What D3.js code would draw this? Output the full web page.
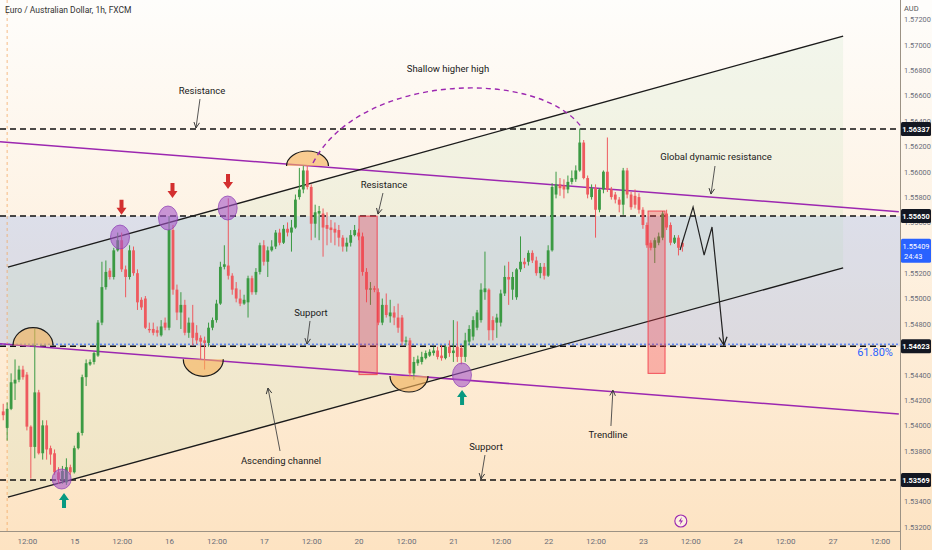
<!DOCTYPE html>
<html><head><meta charset="utf-8">
<script src="https://cdn.jsdelivr.net/npm/d3@7"></script>
<style>body{margin:0;background:#fff}svg{display:block}</style>
</head><body>
<script>
// ---------- DATA ----------
const openP = [
1.5411,1.5398,1.5413,1.5433,1.5436,1.5444,1.5440,1.5399,1.5383,1.5426,
1.5378,1.5400,1.5382,1.5378,1.5363,1.5357,1.5355,1.5367,1.5363,1.5382,
1.5394,1.5438,1.5448,1.5450,1.5455,1.5481,1.5509,1.5522,1.5517,1.5538,
1.5546,1.5523,1.5517,1.5538,1.5520,1.5499,1.5500,1.5476,1.5476,1.5475,
1.5471,1.5481,1.5477,1.5554,1.5507,1.5489,1.5495,1.5473,1.5481,1.5473,
1.5469,1.5467,1.5465,1.5477,1.5483,1.5496,1.5525,1.5526,1.5518,1.5508,
1.5500,1.5496,1.5497,1.5516,1.5505,1.5521,1.5542,1.5529,1.5538,1.5541,
1.5552,1.5544,1.5555,1.5552,1.5556,1.5580,1.5586,1.5601,1.5588,1.5559,
1.5567,1.5567,1.5558,1.5556,1.5555,1.5554,1.5548,1.5541,1.5544,1.5550,
1.5552,1.5549,1.5521,1.5507,1.5508,1.5505,1.5481,1.5495,1.5486,1.5489,
1.5485,1.5485,1.5466,1.5467,1.5441,1.5449,1.5450,1.5453,1.5455,1.5457,
1.5459,1.5455,1.5453,1.5462,1.5457,1.5462,1.5461,1.5454,1.5466,1.5470,
1.5477,1.5483,1.5505,1.5507,1.5483,1.5481,1.5481,1.5504,1.5517,1.5507,
1.5501,1.5523,1.5529,1.5529,1.5536,1.5530,1.5520,1.5525,1.5518,1.5538,
1.5582,1.5590,1.5589,1.5586,1.5592,1.5594,1.5601,1.5623,1.5595,1.5580,
1.5587,1.5570,1.5586,1.5600,1.5586,1.5582,1.5578,1.5574,1.5601,1.5582,
1.5581,1.5580,1.5570,1.5558,1.5544,1.5540,1.5544,1.5548,1.5567,1.5558,
1.5544,1.5548,1.5544];
const highP = [
1.5417,1.5418,1.5441,1.5452,1.5447,1.5447,1.5442,1.5400,1.5476,1.5428,
1.5404,1.5404,1.5384,1.5381,1.5367,1.5368,1.5374,1.5369,1.5384,1.5395,
1.5440,1.5452,1.5452,1.5458,1.5483,1.5529,1.5530,1.5524,1.5540,1.5552,
1.5552,1.5526,1.5542,1.5541,1.5523,1.5501,1.5502,1.5481,1.5481,1.5478,
1.5483,1.5485,1.5565,1.5558,1.5511,1.5505,1.5499,1.5485,1.5495,1.5479,
1.5471,1.5470,1.5481,1.5485,1.5499,1.5529,1.5542,1.5579,1.5520,1.5513,
1.5507,1.5503,1.5518,1.5518,1.5524,1.5544,1.5546,1.5541,1.5546,1.5554,
1.5555,1.5558,1.5560,1.5562,1.5582,1.5603,1.5605,1.5605,1.5590,1.5574,
1.5573,1.5571,1.5568,1.5562,1.5560,1.5558,1.5550,1.5548,1.5554,1.5558,
1.5555,1.5552,1.5524,1.5513,1.5510,1.5508,1.5500,1.5504,1.5499,1.5494,
1.5496,1.5487,1.5470,1.5469,1.5454,1.5455,1.5458,1.5459,1.5460,1.5462,
1.5462,1.5463,1.5463,1.5467,1.5483,1.5482,1.5463,1.5473,1.5479,1.5486,
1.5491,1.5512,1.5537,1.5508,1.5486,1.5488,1.5507,1.5526,1.5529,1.5521,
1.5524,1.5549,1.5532,1.5538,1.5538,1.5533,1.5528,1.5528,1.5542,1.5591,
1.5600,1.5595,1.5594,1.5597,1.5601,1.5605,1.5634,1.5625,1.5597,1.5590,
1.5590,1.5587,1.5601,1.5627,1.5588,1.5584,1.5580,1.5603,1.5603,1.5584,
1.5586,1.5583,1.5572,1.5560,1.5546,1.5548,1.5552,1.5569,1.5570,1.5560,
1.5550,1.5550,1.5546];
const lowP = [
1.5404,1.5388,1.5412,1.5420,1.5434,1.5436,1.5396,1.5358,1.5374,1.5377,
1.5373,1.5373,1.5369,1.5361,1.5354,1.5354,1.5353,1.5361,1.5362,1.5381,
1.5392,1.5431,1.5447,1.5448,1.5454,1.5479,1.5507,1.5515,1.5515,1.5537,
1.5521,1.5501,1.5515,1.5518,1.5491,1.5491,1.5476,1.5473,1.5471,1.5470,
1.5470,1.5475,1.5475,1.5503,1.5483,1.5476,1.5471,1.5469,1.5463,1.5464,
1.5452,1.5444,1.5462,1.5475,1.5481,1.5495,1.5523,1.5515,1.5503,1.5497,
1.5494,1.5495,1.5485,1.5503,1.5503,1.5519,1.5526,1.5517,1.5537,1.5539,
1.5542,1.5543,1.5549,1.5537,1.5555,1.5578,1.5583,1.5586,1.5546,1.5548,
1.5546,1.5533,1.5542,1.5544,1.5542,1.5541,1.5537,1.5537,1.5541,1.5549,
1.5546,1.5518,1.5497,1.5495,1.5505,1.5479,1.5479,1.5485,1.5481,1.5479,
1.5473,1.5463,1.5463,1.5438,1.5436,1.5447,1.5448,1.5452,1.5454,1.5455,
1.5452,1.5451,1.5452,1.5454,1.5450,1.5450,1.5448,1.5450,1.5463,1.5467,
1.5475,1.5481,1.5499,1.5467,1.5467,1.5469,1.5478,1.5502,1.5495,1.5499,
1.5499,1.5521,1.5524,1.5526,1.5528,1.5518,1.5516,1.5515,1.5517,1.5537,
1.5579,1.5581,1.5579,1.5583,1.5590,1.5592,1.5600,1.5594,1.5579,1.5578,
1.5548,1.5568,1.5583,1.5584,1.5578,1.5575,1.5568,1.5566,1.5579,1.5570,
1.5571,1.5567,1.5555,1.5540,1.5538,1.5528,1.5542,1.5546,1.5554,1.5542,
1.5543,1.5534,1.5537];
const closeP = [
1.5408,1.5413,1.5434,1.5436,1.5444,1.5438,1.5399,1.5383,1.5426,1.5378,
1.5400,1.5381,1.5377,1.5363,1.5357,1.5364,1.5367,1.5363,1.5382,1.5394,
1.5438,1.5449,1.5450,1.5457,1.5481,1.5509,1.5521,1.5517,1.5538,1.5546,
1.5523,1.5517,1.5538,1.5520,1.5497,1.5493,1.5477,1.5475,1.5473,1.5473,
1.5478,1.5477,1.5554,1.5507,1.5489,1.5495,1.5473,1.5481,1.5469,1.5467,
1.5466,1.5465,1.5477,1.5483,1.5496,1.5525,1.5527,1.5518,1.5507,1.5500,
1.5496,1.5499,1.5516,1.5505,1.5521,1.5542,1.5529,1.5538,1.5541,1.5552,
1.5544,1.5555,1.5552,1.5556,1.5578,1.5586,1.5601,1.5588,1.5559,1.5568,
1.5569,1.5556,1.5555,1.5554,1.5552,1.5548,1.5541,1.5544,1.5550,1.5554,
1.5549,1.5521,1.5507,1.5508,1.5507,1.5481,1.5495,1.5487,1.5489,1.5485,
1.5477,1.5466,1.5467,1.5441,1.5450,1.5452,1.5454,1.5457,1.5458,1.5459,
1.5454,1.5453,1.5462,1.5457,1.5459,1.5454,1.5454,1.5467,1.5476,1.5483,
1.5489,1.5507,1.5508,1.5475,1.5475,1.5485,1.5504,1.5517,1.5515,1.5517,
1.5523,1.5529,1.5527,1.5536,1.5530,1.5520,1.5525,1.5518,1.5538,1.5588,
1.5590,1.5587,1.5586,1.5592,1.5595,1.5601,1.5623,1.5595,1.5582,1.5587,
1.5570,1.5586,1.5600,1.5586,1.5580,1.5578,1.5574,1.5601,1.5582,1.5572,
1.5574,1.5570,1.5558,1.5542,1.5540,1.5546,1.5549,1.5567,1.5556,1.5544,
1.5548,1.5540,1.55409];

const priceTicks = [1.532,1.534,1.538,1.540,1.542,1.544,1.548,1.550,1.552,1.556,1.558,1.560,1.562,1.564,1.566,1.568,1.570,1.572];
const timeTickIdx = [6,18,30,42,54,66,78,90,102,114,126,138,150,162,174,186,198,210,222];
const timeTickLabels = ["12:00","15","12:00","16","12:00","17","12:00","20","12:00","21","12:00","22","12:00","23","12:00","24","12:00","27","12:00"];

const levelPrices = [1.56337, 1.55650, 1.54623, 1.53569];
const bandPrices = [1.55650, 1.54623];
const fibPrice = 1.5464;
const fibLabel = "61.80%";
const lastPrice = 1.55409;
const countdown = "24:43";

const channelUpper = [[1.2,1.55248],[212.7,1.57070]];
const channelLower = [[1.2,1.53435],[212.7,1.55241]];
const purpleUpper = [[-0.81,1.56237],[226.8,1.55684]];
const purpleLower = [[-0.81,1.54644],[226.8,1.54089]];
const zoneBoxes = [[90.1,94.7,1.5565,1.5440],[163.3,167.6,1.5569,1.5441]];
const touchCircles = [[29.58,1.55485],[41.73,1.55635],[56.85,1.55714],[14.81,1.53577],[116.18,1.54397]];
const halfDomes = [[7.55,1.54629,"up"],[50.67,1.54521,"down"],[77.06,1.56045,"up"],[102.76,1.54389,"down"]];
const sellArrows = [[29.96,1.5566],[42.87,1.55793],[56.93,1.55864]];
const buyArrows = [[15.4,1.53466],[116.2,1.54279]];
const higherHighArc = [[78.45,1.56069],[90.35,1.56786],[135.93,1.56818],[146.57,1.56345]];
const projection = [[171.4,1.55383],[174.7,1.55722],[177.5,1.55343],[179.5,1.55564],[182.5,1.54633]];
const noteTexts = ["Shallow higher high","Resistance","Resistance","Global dynamic resistance","Support","Ascending channel","Support","Trendline"];
const notePos = [[112.63,1.56810],[50.34,1.56636],[96.43,1.55895],[180.5,1.56116],[77.94,1.54886],[70.35,1.53719],[122.26,1.53829],[153.15,1.53924]];
const pointers = [
  [[49.83,1.56573],[48.82,1.56345]],
  [[96.17,1.55832],[94.91,1.55666]],
  [[180.25,1.56045],[179.24,1.55824]],
  [[77.69,1.54823],[76.93,1.54641]],
  [[70.1,1.53798],[67.05,1.54294]],
  [[122.0,1.53766],[121.0,1.53577]],
  [[153.9,1.53995],[154.4,1.54278]]
];
const sessionBreakIdx = 1.0;
const eventIdx = 171.6;
const title = "Euro / Australian Dollar, 1h, FXCM";

// ---------- STYLE / LAYOUT ----------
const W=932,H=550,PR=900,PB=531;
const UP="#3b9a43", DN="#ee5a5f";
const domeSize=[[20,18],[20,17],[21,15],[19,16]];

const x=d3.scaleLinear().domain([0,227]).range([3.2,899.6]);
const y=d3.scaleLinear().domain([1.53167,1.57354]).range([PB,0]);
const P=d=>[x(d[0]),y(d[1])];

const svg=d3.select("body").append("svg").attr("width",W).attr("height",H)
  .style("font-family","Roboto, 'Noto Sans', sans-serif");
const defs=svg.append("defs");
const grad=defs.append("linearGradient").attr("id","bg").attr("x1",0).attr("y1",0).attr("x2",0).attr("y2",1);
grad.append("stop").attr("offset","0%").attr("stop-color","#fefdfb");
grad.append("stop").attr("offset","100%").attr("stop-color","#fde3c2");
defs.append("clipPath").attr("id","clip").append("rect").attr("width",PR).attr("height",PB);
function marker(id,size,color){
  defs.append("marker").attr("id",id).attr("viewBox","0 0 10 10").attr("refX",9).attr("refY",5)
   .attr("markerWidth",size).attr("markerHeight",size).attr("markerUnits","userSpaceOnUse").attr("orient","auto")
   .append("path").attr("d","M1,1 L9,5 L1,9").attr("fill","none").attr("stroke",color).attr("stroke-width",1.3);
}
marker("ah",7,"#333");
marker("ahBig",10,"#222");

svg.append("rect").attr("width",W).attr("height",H).attr("fill","url(#bg)");
const plot=svg.append("g").attr("clip-path","url(#clip)");

// band
plot.append("rect").attr("x",0).attr("width",PR)
  .attr("y",y(bandPrices[0])).attr("height",y(bandPrices[1])-y(bandPrices[0]))
  .attr("fill","rgba(80,140,255,0.19)");
// channel fill
plot.append("path").attr("d",d3.line()([P(channelUpper[0]),P(channelUpper[1]),P(channelLower[1]),P(channelLower[0])])+"Z")
  .attr("fill","rgba(170,220,170,0.14)");

// session break
plot.append("line").attr("x1",x(sessionBreakIdx)).attr("x2",x(sessionBreakIdx)).attr("y1",0).attr("y2",PB)
  .attr("stroke","#f3a35a").attr("stroke-width",1).attr("stroke-dasharray","3,3").attr("opacity",0.7);

// levels
levelPrices.forEach(p=>{
  plot.append("line").attr("x1",0).attr("x2",PR).attr("y1",y(p)).attr("y2",y(p))
   .attr("stroke","#111").attr("stroke-width",1.5).attr("stroke-dasharray","6,4");
});
plot.append("line").attr("x1",0).attr("x2",PR).attr("y1",y(fibPrice)).attr("y2",y(fibPrice))
  .attr("stroke","#2962ff").attr("stroke-width",1).attr("stroke-dasharray","2,2");

// trend lines
[[purpleUpper,"#9c27b0",1.5],[purpleLower,"#9c27b0",1.5],[channelUpper,"#1b1b1b",1.3],[channelLower,"#1b1b1b",1.3]].forEach(([l,c,w])=>{
  plot.append("line").attr("x1",x(l[0][0])).attr("y1",y(l[0][1])).attr("x2",x(l[1][0])).attr("y2",y(l[1][1]))
   .attr("stroke",c).attr("stroke-width",w);
});

// candles
const cg=plot.append("g");
const idx=d3.range(openP.length);
cg.selectAll("line.w").data(idx).join("line").attr("class","w")
  .attr("x1",i=>x(i)).attr("x2",i=>x(i)).attr("y1",i=>y(highP[i])).attr("y2",i=>y(lowP[i]))
  .attr("stroke",i=>closeP[i]>=openP[i]?UP:DN).attr("stroke-width",1);
cg.selectAll("rect.b").data(idx).join("rect").attr("class","b")
  .attr("x",i=>x(i)-1.4).attr("width",2.8)
  .attr("y",i=>y(Math.max(openP[i],closeP[i])))
  .attr("height",i=>Math.max(1,y(Math.min(openP[i],closeP[i]))-y(Math.max(openP[i],closeP[i]))))
  .attr("fill",i=>closeP[i]>=openP[i]?UP:DN);

// zone boxes
zoneBoxes.forEach(b=>{
  plot.append("rect").attr("x",x(b[0])).attr("width",x(b[1])-x(b[0]))
   .attr("y",y(b[2])).attr("height",y(b[3])-y(b[2]))
   .attr("fill","rgba(242,54,69,0.32)").attr("stroke","rgba(242,54,69,0.85)").attr("stroke-width",1);
});

// half domes
halfDomes.forEach((d,i)=>{
  const [cx,cy]=P(d),[rx,ry]=domeSize[i];
  const sweep=d[2]==="up"?1:0;
  const arc=`M${cx-rx},${cy} A${rx},${ry} 0 0 ${sweep} ${cx+rx},${cy}`;
  plot.append("path").attr("d",arc+"Z").attr("fill","rgba(245,178,90,0.62)");
  plot.append("path").attr("d",arc).attr("fill","none").attr("stroke","#1a1a1a").attr("stroke-width",1.2);
});

// higher high arc
const a=higherHighArc.map(P);
plot.append("path").attr("d",`M${a[0]} C${a[1]} ${a[2]} ${a[3]}`).attr("fill","none")
  .attr("stroke","#9c27b0").attr("stroke-width",1.4).attr("stroke-dasharray","5,4");

// touch circles
touchCircles.forEach((c,i)=>{
  plot.append("ellipse").attr("cx",x(c[0])).attr("cy",y(c[1])).attr("rx",9.5).attr("ry",i===3?10:12)
   .attr("fill","rgba(165,85,200,0.6)").attr("stroke","rgba(140,60,180,0.7)").attr("stroke-width",1);
});

// sell / buy arrows
function blockArrow(cx,tipY,dir,color){
  const s=dir;
  const pts=[[cx-2,tipY-15*s],[cx+2,tipY-15*s],[cx+2,tipY-7*s],[cx+5,tipY-7*s],[cx,tipY],[cx-5,tipY-7*s],[cx-2,tipY-7*s]];
  plot.append("path").attr("d",d3.line()(pts)+"Z").attr("fill",color);
}
sellArrows.forEach(d=>blockArrow(x(d[0]),y(d[1]),1,"#d32f2f"));
buyArrows.forEach(d=>blockArrow(x(d[0]),y(d[1]),-1,"#089981"));

// projection
plot.append("path").attr("d",d3.line()(projection.map(P))).attr("fill","none")
  .attr("stroke","#222").attr("stroke-width",1.2).attr("marker-end","url(#ahBig)");

// pointers
pointers.forEach(pt=>{
  plot.append("line").attr("x1",x(pt[0][0])).attr("y1",y(pt[0][1])).attr("x2",x(pt[1][0])).attr("y2",y(pt[1][1]))
   .attr("stroke","#444").attr("stroke-width",0.9).attr("marker-end","url(#ah)");
});

// notes
noteTexts.forEach((t,i)=>{
  plot.append("text").attr("x",x(notePos[i][0])).attr("y",y(notePos[i][1])).attr("dy","0.35em")
   .attr("text-anchor","middle").attr("font-size",9.5).attr("fill","#1a1a1a").text(t);
});
plot.append("text").attr("x",x(225.3)).attr("y",y(fibPrice)+12).attr("text-anchor","end")
  .attr("font-size",11).attr("fill","#2962ff").text(fibLabel);

// event icon
const ev=svg.append("g").attr("transform",`translate(${x(eventIdx)},521)`);
ev.append("circle").attr("r",6).attr("fill","#fdf0e0").attr("stroke","#9c27b0").attr("stroke-width",1.1);
ev.append("path").attr("d","M1,-4 L-2.2,0.6 L0,0.6 L-1,4 L2.2,-0.6 L0,-0.6 Z").attr("fill","#9c27b0");

// axes
const ya=svg.append("g").attr("transform",`translate(${PR},0)`)
  .call(d3.axisRight(y).tickValues(priceTicks).tickSize(0).tickPadding(4).tickFormat(d3.format(".5f")));
ya.select(".domain").remove();
ya.selectAll("text").attr("font-size",7.4).attr("fill","#6a6d78").style("font-family","Roboto, sans-serif");
const xa=svg.append("g").attr("transform",`translate(0,${PB})`)
  .call(d3.axisBottom(x).tickValues(timeTickIdx).tickSize(0).tickPadding(7).tickFormat((d,i)=>timeTickLabels[i]));
xa.select(".domain").remove();
xa.selectAll("text").attr("font-size",8).attr("fill","#6a6d78").style("font-family","Roboto, sans-serif");
svg.append("line").attr("x1",0).attr("x2",PR).attr("y1",PB+0.5).attr("y2",PB+0.5).attr("stroke","#9c9284");
svg.append("line").attr("x1",PR+0.5).attr("x2",PR+0.5).attr("y1",0).attr("y2",H).attr("stroke","#9c9284");

// AUD
svg.append("rect").attr("x",PR+1).attr("y",0).attr("width",31).attr("height",14).attr("fill","#fefdfb");
svg.append("text").attr("x",904).attr("y",11).attr("font-size",7.5).attr("fill","#555").text("AUD");

// level tags
levelPrices.forEach(p=>{
  svg.append("rect").attr("x",PR+1).attr("y",y(p)-7).attr("width",30).attr("height",14).attr("rx",1.5).attr("fill","#131722");
  svg.append("text").attr("x",PR+16).attr("y",y(p)).attr("dy","0.35em").attr("text-anchor","middle")
    .attr("font-size",7.4).attr("font-weight",700).attr("fill","#fff").text(p.toFixed(5));
});
svg.append("rect").attr("x",PR+1).attr("y",y(lastPrice)-8).attr("width",30).attr("height",24).attr("rx",1.5).attr("fill","#2962ff");
svg.append("text").attr("x",PR+16).attr("y",y(lastPrice)).attr("dy","0.35em").attr("text-anchor","middle")
  .attr("font-size",7.4).attr("fill","#fff").text(lastPrice.toFixed(5));
svg.append("text").attr("x",PR+4).attr("y",y(lastPrice)+10).attr("dy","0.35em")
  .attr("font-size",7.4).attr("fill","#fff").text(countdown);

// title
svg.append("text").attr("x",5).attr("y",13).attr("font-size",8.5).attr("fill","#333").text(title);
</script>
</body></html>
